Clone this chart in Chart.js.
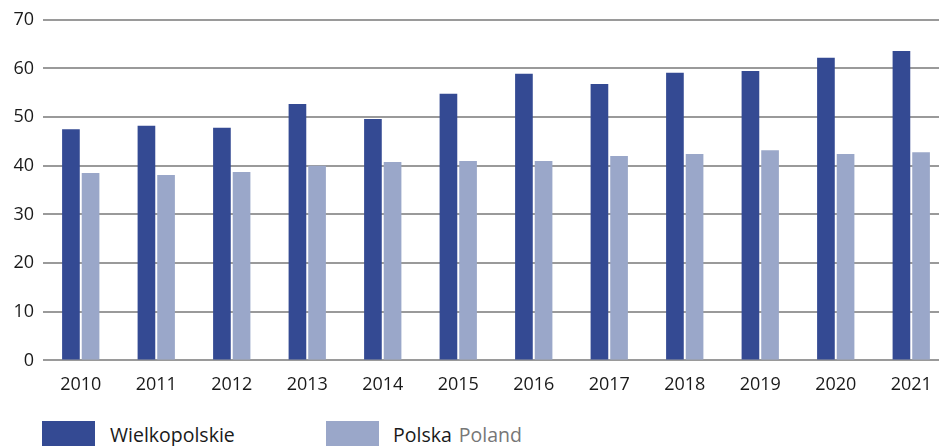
<!DOCTYPE html>
<html>
<head>
<meta charset="utf-8">
<script src="https://cdn.jsdelivr.net/npm/chart.js@4/dist/chart.umd.min.js"></script>
<style>
  html, body { margin: 0; padding: 0; background: #fff; overflow: hidden; }
  .wrap { position: relative; width: 939px; height: 446px; overflow: hidden; }
  .chart-box { position: absolute; left: 0; top: 0; width: 950px; height: 402px; }
  .legend { position: absolute; top: 421px; left: 42px; font-family: "Open Sans", sans-serif; font-size: 19.5px; color: #1a1a1a; }
  .legend .item { position: absolute; top: 0; white-space: nowrap; }
  .legend .swatch { position: absolute; top: 0; width: 53px; height: 30px; }
  .legend .label { position: absolute; top: 0px; }
  .legend .en { color: #777; margin-left: 7px; }
</style>
</head>
<body>
<div class="wrap">
  <div class="chart-box"><canvas id="barChart"></canvas></div>
  <div class="legend">
    <div class="item" style="left:0">
      <div class="swatch" style="background:#344a93"></div>
      <div class="label" style="left:68px">Wielkopolskie</div>
    </div>
    <div class="item" style="left:284px">
      <div class="swatch" style="background:#9aa7c9"></div>
      <div class="label" style="left:67px">Polska<span class="en">Poland</span></div>
    </div>
  </div>
</div>
<script>
// data
const years = ['2010', '2011', '2012', '2013', '2014', '2015', '2016', '2017', '2018', '2019', '2020', '2021'];
const wielkopolskie = [47.5, 48.2, 47.8, 52.7, 49.6, 54.8, 58.9, 56.8, 59.1, 59.5, 62.2, 63.6];
const polska = [38.5, 38.1, 38.7, 40.0, 40.8, 41.0, 41.0, 42.0, 42.4, 43.2, 42.4, 42.8];
const yTicks = [0, 10, 20, 30, 40, 50, 60, 70];

const ctx = document.getElementById('barChart').getContext('2d');

new Chart(ctx, {
    type: 'bar',
    data: {
        labels: years,
        datasets: [
            {
                label: 'Wielkopolskie',
                data: wielkopolskie,
                backgroundColor: '#344a93',
                barPercentage: 0.9,
                categoryPercentage: 0.52
            },
            {
                label: 'Polska',
                data: polska,
                backgroundColor: '#9aa7c9',
                barPercentage: 0.9,
                categoryPercentage: 0.52
            }
        ]
    },
    options: {
        responsive: true,
        maintainAspectRatio: false,
        animation: false,
        layout: { padding: { top: 11, right: 1, left: 0, bottom: 0 } },
        plugins: {
            legend: { display: false },
            tooltip: { enabled: false }
        },
        scales: {
            x: {
                grid: { display: false },
                border: { display: false },
                ticks: {
                    color: '#1a1a1a',
                    padding: 6,
                    font: { family: 'Open Sans', size: 18 }
                }
            },
            y: {
                min: 0,
                max: 70,
                afterBuildTicks: scale => { scale.ticks = yTicks.map(v => ({ value: v })); },
                afterFit: scale => { scale.width = 43; },
                grid: { color: '#9a9a9a', lineWidth: 2, drawTicks: false },
                border: { display: false },
                ticks: {
                    color: '#1a1a1a',
                    padding: 9,
                    font: { family: 'Open Sans', size: 18 }
                }
            }
        }
    }
});
</script>
</body>
</html>
